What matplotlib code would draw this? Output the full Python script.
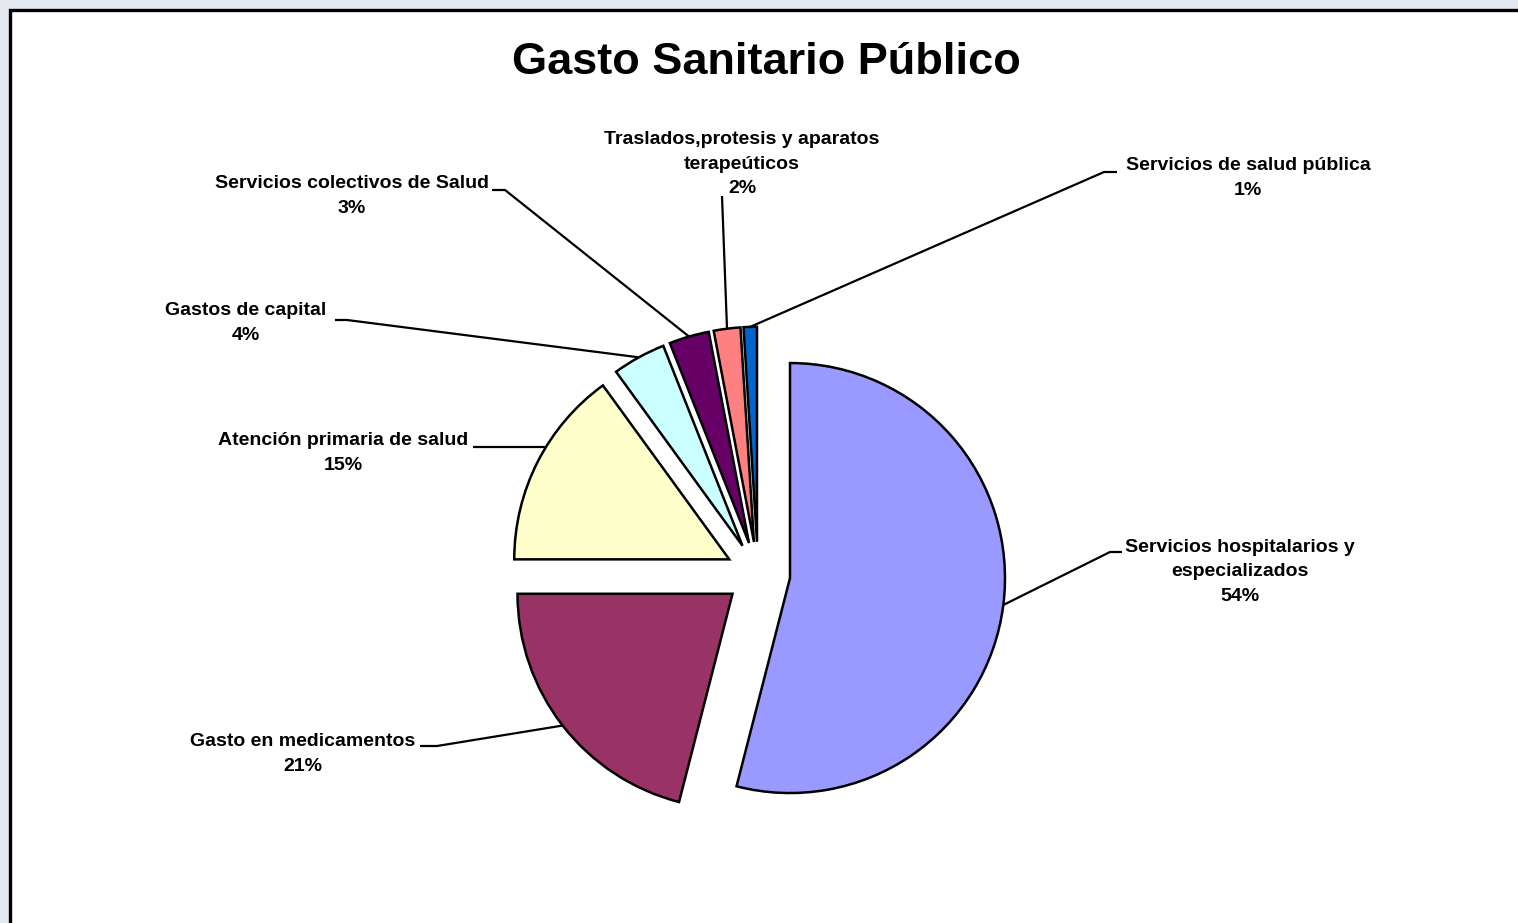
import numpy as np
import matplotlib
matplotlib.use('Agg')
import matplotlib.pyplot as plt
from matplotlib.patches import Rectangle

# Public health spending by function, share of total (%)
categories = ['Servicios hospitalarios y\nespecializados',
              'Gasto en medicamentos',
              'Atención primaria de salud',
              'Gastos de capital',
              'Servicios colectivos de Salud',
              'Traslados,protesis y aparatos\nterapeúticos',
              'Servicios de salud pública']
shares = [54, 21, 15, 4, 3, 2, 1]
colors = ['#9999FF', '#993366', '#FFFFCC', '#CCFFFF', '#660066', '#FF8080', '#0066CC']

# layout in pixels (y measured from the top of the image)
W, H = 1518, 923
CX, CY, R = 758, 574, 215
# label centre and leader stub (from the label side towards the slice)
label_pos = [(1240, 572), (303, 754), (343, 453), (246, 323), (352, 196), (742, 164), (1248, 178)]
stubs = [[(1122, 552), (1110, 552)],
         [(420, 746), (437, 746)],
         [(473, 447)],
         [(335, 320), (347, 320)],
         [(492, 190), (505, 190)],
         [(722, 196)],
         [(1117, 172), (1104, 172)]]
# leaders that run level into the slice instead of aiming at its mid-angle
level_leader = [False, False, True, False, False, False, False]

def px(x, y):
    # pixel position -> data units (pie radius = 1, centred at 0,0)
    return (x - CX) / R, (CY - y) / R

plt.rcParams['font.family'] = ['Liberation Sans', 'DejaVu Sans']
fig = plt.figure(figsize=(W / 100, H / 100), dpi=100)
fig.patch.set_facecolor('#E4E8F0')
fig.patches.append(Rectangle((10 / W, -0.05), 1.2, 1.05 - 10 / H, transform=fig.transFigure,
                             facecolor='white', edgecolor='black', lw=2.4, zorder=-1))

ax = fig.add_axes([0, 0, 1, 1])
ax.patch.set_alpha(0)

wedges, _ = ax.pie(shares, colors=colors, startangle=90, counterclock=False,
                   explode=[0.15] * len(shares), radius=1, center=(0, 0),
                   wedgeprops=dict(edgecolor='black', linewidth=1.8))

# pie() sets its own limits, so map the axes to pixel space afterwards
ax.set_xlim(px(0, 0)[0], px(W, 0)[0])
ax.set_ylim(px(0, H)[1], px(0, 0)[1])
ax.set_aspect('equal')
ax.axis('off')

for w, name, val, pos, stub, level in zip(wedges, categories, shares, label_pos, stubs, level_leader):
    pts = [px(*p) for p in stub]
    cx, cy = w.center
    if level:
        # point on the arc at the stub's height, on the label's side
        y0 = pts[-1][1]
        dx = np.sqrt(w.r ** 2 - (y0 - cy) ** 2)
        end = (cx - dx if pts[-1][0] < cx else cx + dx, y0)
    else:
        mid = np.deg2rad((w.theta1 + w.theta2) / 2)
        end = (cx + w.r * np.cos(mid), cy + w.r * np.sin(mid))
    xs, ys = zip(*(pts + [end]))
    ax.plot(xs, ys, color='black', lw=1.6, solid_capstyle='butt', zorder=3)
    tx, ty = px(*pos)
    ax.text(tx, ty, f'{name}\n{val}%', ha='center', va='center', fontsize=14,
            fontweight='bold', linespacing=1.55)

fig.text(766 / W, 1 - 63 / H, 'Gasto Sanitario Público', ha='center', va='center',
         fontsize=32.5, fontweight='bold')

fig.savefig('out.png', dpi=100, facecolor=fig.get_facecolor())
